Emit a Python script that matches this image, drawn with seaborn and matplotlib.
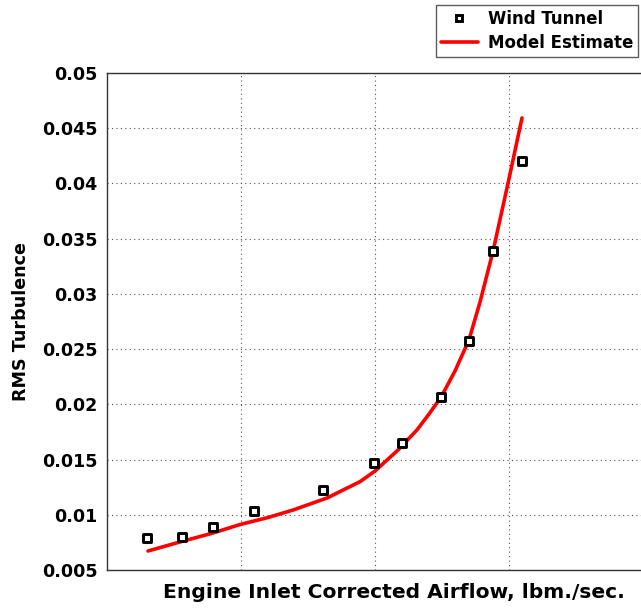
import matplotlib
matplotlib.use("Agg")
import matplotlib.pyplot as plt
from matplotlib.lines import Line2D
import seaborn as sns
import pandas as pd

# Wind tunnel measurements (airflow in lbm/sec, RMS turbulence)
tunnel_airflow = [142.99, 145.60, 147.91, 150.97, 156.12, 159.93, 162.01, 164.93, 167.01, 168.81, 170.97]
tunnel_rms = [0.0079, 0.0080, 0.0089, 0.0103, 0.0122, 0.0147, 0.0165, 0.0207, 0.0257, 0.0339, 0.0420]

# Model estimate curve
model_airflow = [143.06, 145.45, 147.91, 149.93, 152.01, 153.88, 156.42, 158.88, 160.00, 161.72,
                 163.13, 164.03, 164.93, 165.97, 167.01, 167.84, 168.81, 169.93, 170.97]
model_rms = [0.00672, 0.00754, 0.00835, 0.00912, 0.00975, 0.01043, 0.01152, 0.01300, 0.01396, 0.01587,
             0.01768, 0.01912, 0.02066, 0.02302, 0.02583, 0.02927, 0.03388, 0.04004, 0.04593]

y_ticks = [0.005, 0.01, 0.015, 0.02, 0.025, 0.03, 0.035, 0.04, 0.045, 0.05]
y_tick_labels = ["0.005", "0.01", "0.015", "0.02", "0.025", "0.03", "0.035", "0.04", "0.045", "0.05"]
x_grid = [150, 160, 170]

tunnel = pd.DataFrame({"airflow": tunnel_airflow, "rms": tunnel_rms})
model = pd.DataFrame({"airflow": model_airflow, "rms": model_rms})

sns.set_style("white")
plt.rcParams["font.family"] = ["DejaVu Sans"]
plt.rcParams["text.color"] = "black"
plt.rcParams["axes.labelcolor"] = "black"
plt.rcParams["ytick.labelcolor"] = "black"

W, H = 641, 609
fig = plt.figure(figsize=(W / 100, H / 100), dpi=100)
ax = fig.add_axes([107 / W, 1 - 570 / H, (643 - 107) / W, (570 - 73) / H])

sns.lineplot(data=model, x="airflow", y="rms", ax=ax, color="#ff0000", linewidth=2.6,
             sort=False, legend=False, zorder=3)
sns.scatterplot(data=tunnel, x="airflow", y="rms", ax=ax, marker="s", s=32,
                facecolor="white", edgecolor="black", linewidth=2.1,
                legend=False, zorder=4)

ax.set_xlim(140, 180)
ax.set_ylim(0.005, 0.05)
ax.set_xticks(x_grid)
ax.set_xticklabels([])
ax.set_yticks(y_ticks)
ax.set_yticklabels(y_tick_labels)
ax.grid(True, color="#555555", linestyle=(0, (1, 3)), linewidth=0.8)
ax.tick_params(axis="both", direction="in", length=4, width=1, color="#555555",
               labelsize=12.6, pad=7, labelcolor="black")
for lab in ax.get_yticklabels():
    lab.set_fontweight("bold")
for side in ["left", "bottom", "top", "right"]:
    ax.spines[side].set_color("#333333")
    ax.spines[side].set_linewidth(1.0)

ax.set_xlabel("Engine Inlet Corrected Airflow, lbm./sec.", fontsize=14.6,
              fontweight="bold", color="black")
ax.set_ylabel("RMS Turbulence", fontsize=12.6, fontweight="bold", color="black")
ax.xaxis.set_label_coords(0.535, -0.027)
ax.yaxis.set_label_coords(-0.143, 0.5)

handles = [
    Line2D([], [], marker="s", linestyle="none", markersize=5, markerfacecolor="white",
           markeredgecolor="black", markeredgewidth=2.1),
    Line2D([], [], color="#ff0000", linewidth=2.6),
]
leg = fig.legend(handles, ["Wind Tunnel", "Model Estimate"], loc="upper left",
                 bbox_to_anchor=(436 / W, 1 - 5 / H), frameon=True, fancybox=False,
                 prop={"size": 12, "weight": "bold"}, handlelength=2.2,
                 borderpad=0.3, labelspacing=0.35, handletextpad=0.6, borderaxespad=0)
leg.get_frame().set_edgecolor("#333333")
leg.get_frame().set_linewidth(1.0)
for t in leg.get_texts():
    t.set_color("black")

fig.savefig("out.png", dpi=100)
